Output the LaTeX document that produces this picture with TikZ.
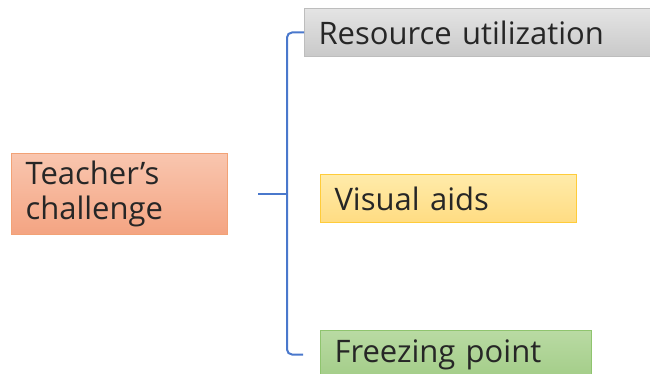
\documentclass[tikz,border=0pt]{standalone}
\usepackage{fontspec}
\setmainfont{Open Sans}
\usepackage{xcolor}
\definecolor{nhanh}{HTML}{4A78CC}
\definecolor{chu}{HTML}{262626}
\definecolor{camtren}{HTML}{F9C6AF}
\definecolor{camduoi}{HTML}{F4A482}
\definecolor{camvien}{HTML}{F2A276}
\definecolor{xamtren}{HTML}{E4E4E4}
\definecolor{xamduoi}{HTML}{C9C9C9}
\definecolor{xamvien}{HTML}{BDBDBD}
\definecolor{vangtren}{HTML}{FFEBAA}
\definecolor{vangduoi}{HTML}{FFDC82}
\definecolor{vangvien}{HTML}{FFCC3A}
\definecolor{xanhtren}{HTML}{B9DAA3}
\definecolor{xanhduoi}{HTML}{A3CD88}
\definecolor{xanhvien}{HTML}{8FC46E}
\usetikzlibrary{positioning}

\begin{document}
\begin{tikzpicture}[x=1pt,y=-1pt]
		\tikzset{
			hop/.style={draw,line width=1pt,anchor=north west,align=left,
				inner xsep=14pt,inner ysep=0pt,minimum height=48pt,
				font=\fontsize{31}{35}\selectfont,text=chu},
			goc/.style={hop,top color=camtren,bottom color=camduoi,draw=camvien},
			xam/.style={hop,top color=xamtren,bottom color=xamduoi,draw=xamvien},
			vang/.style={hop,top color=vangtren,bottom color=vangduoi,draw=vangvien},
			xanh/.style={hop,top color=xanhtren,bottom color=xanhduoi,draw=xanhvien},
			nhanhve/.style={draw=nhanh,line width=2pt}
		}
		\useasboundingbox (0,0) rectangle (650,374);
		%%%nut goc
		\node[goc,text width=188pt,minimum height=81pt] (tc) at (11,153) {Teacher’s\\challenge};
		%%%cac nhanh con
		\node[xam,text width=360pt] (ru) at (304,8) {Resource utilization};
		\node[vang,text width=228pt] (va) at (320,174) {Visual aids};
		\node[xanh,text width=243pt] (fp) at (320,330) {Freezing point};
		%%%ngoac noi
		\coordinate[right=59pt of tc.east] (fork);
		\draw[nhanhve,shorten <=30pt] (tc.east) -- (fork);
		\draw[nhanhve,rounded corners=5pt,shorten >=17pt] (ru.west) -| (fork) |- (fp.west);
	\end{tikzpicture}
\end{document}
